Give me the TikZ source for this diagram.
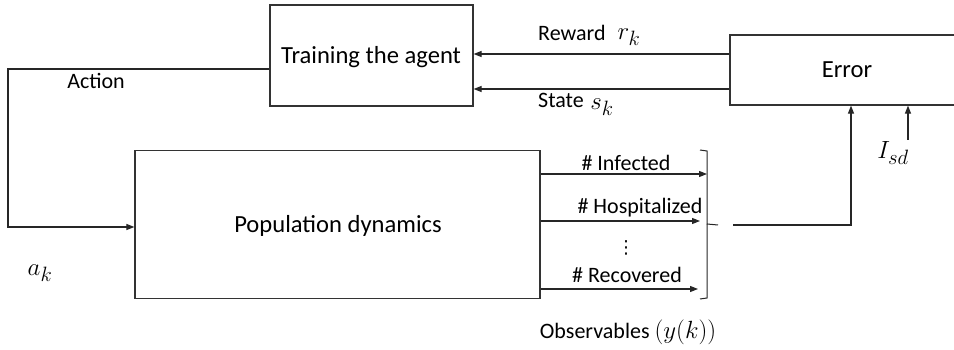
\documentclass[tikz,border=0pt]{standalone}
\usepackage{fontspec}
\setmainfont{Carlito}
\newfontfamily\dvfont{DejaVu Sans}
\usetikzlibrary{arrows.meta}
\begin{document}
\begin{tikzpicture}[x=1pt,y=-1pt,
  box/.style={draw=black!80,line width=1.2pt,inner sep=0pt},
  ln/.style={line width=1.1pt,draw=black!85},
  arr/.style={ln,-{Triangle[length=8pt,width=6pt]}},
  lbl/.style={inner sep=0pt,font=\fontsize{22}{26}\selectfont},
  big/.style={inner sep=0pt,font=\fontsize{24.6}{29}\selectfont},
  mth/.style={inner sep=0pt,font=\fontsize{28}{32}\selectfont}]
\useasboundingbox (0,0) rectangle (954,350);
\clip (0,0) rectangle (954,350);
% boxes
\node[box,minimum width=203pt,minimum height=101pt] (train) at (371.5,55.5) {};
\node[big] (traint) at (371,57) {Training the agent};
\node[box,minimum width=405pt,minimum height=148pt] (pop) at (337.5,224.5) {};
\node[big] (popt) at (338,226) {Population dynamics};
\node[box,minimum width=240pt,minimum height=70pt] (err) at (850,70) {};
\node[big] (errt) at (847,70) {Error};
% action loop
\coordinate (a1) at (8,69);
\coordinate (a2) at (8,227);
\draw[arr] (train.west |- a1) -- (a1) -- (a2) -- (pop.west |- a2);
\node[lbl] (act) at (96,81) {Action};
\node[mth] (ak) at (40,273) {$a_k$};
% reward / state
\coordinate (rw) at (730,54);
\coordinate (st) at (730,89);
\draw[arr] (err.west |- rw) -- (train.east |- rw);
\draw[arr] (err.west |- st) -- (train.east |- st);
\node[lbl,anchor=west] (rwt) at (538,33) {Reward};
\node[mth] (rk) at (629,37) {$r_k$};
\node[lbl,anchor=west] (stt) at (538,100) {State};
\node[mth] (sk) at (602,107) {$s_k$};
% outputs
\coordinate (o1) at (707,174);
\coordinate (o2) at (700,221);
\coordinate (o3) at (698,289);
\draw[arr] (pop.east |- o1) -- (o1);
\draw[arr] (pop.east |- o2) -- (o2);
\draw[arr] (pop.east |- o3) -- (o3);
\node[lbl] (inf) at (626,163) {\# Infected};
\node[lbl] (hos) at (640,208) {\# Hospitalized};
\node[inner sep=0pt,font=\dvfont\fontsize{18}{20}\selectfont] (dots) at (626,248) {⋮};
\node[lbl] (rec) at (627,275) {\# Recovered};
% bracket
\coordinate (bt) at (700,150);
\coordinate (bb) at (700,299);
\coordinate (bm) at (718,225);
\draw[ln,line width=1pt] (bt) -- (707,151) -- (707,224) -- (bm);
\draw[ln,line width=1pt] (707,224) -- (707,298) -- (bb);
\node[lbl] (obs) at (628,332) {Observables {\fontsize{25}{30}\selectfont$(y(k))$}};
% to error
\coordinate (e1) at (733,225);
\coordinate (e2) at (851,225);
\draw[arr] (e1) -- (e2) -- (err.south -| e2);
\coordinate (isd0) at (908,140);
\draw[arr] (isd0) -- (err.south -| isd0);
\node[mth] (isd) at (893,153) {$I_{sd}$};
\end{tikzpicture}
\end{document}
